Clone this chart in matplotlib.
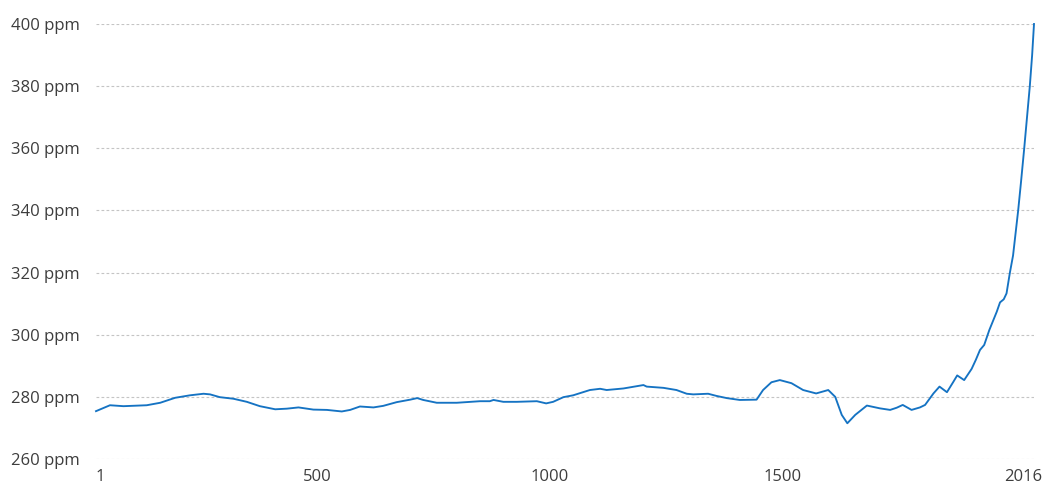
import matplotlib
matplotlib.use('Agg')
import matplotlib.pyplot as plt
import matplotlib.transforms as mtransforms

# Atmospheric CO2 concentration (ppm)
years = [1, 31, 60, 110, 139, 171, 203, 232, 246, 267, 296, 325, 353, 386, 411,
         436, 468, 497, 529, 547, 568, 597, 618, 647, 676, 691, 704, 733, 776,
         826, 847, 855, 876, 905, 948, 968, 983, 1005, 1026, 1062, 1084, 1098,
         1134, 1177, 1184, 1220, 1248, 1270, 1284, 1316, 1334, 1356, 1384, 1420,
         1434, 1452, 1470, 1495, 1520, 1548, 1574, 1589, 1603, 1615, 1632, 1657,
         1685, 1707, 1721, 1734, 1753, 1771, 1782, 1800, 1813, 1829, 1843, 1851,
         1866, 1882, 1891, 1900, 1909, 1920, 1936, 1943, 1951, 1957, 1964, 1971,
         1982, 1988, 1995, 2001, 2007, 2012, 2016]
co2 = [275.4, 277.3, 277.0, 277.3, 278.1, 279.7, 280.5, 281.0, 280.8, 279.9,
       279.4, 278.4, 277.0, 276.0, 276.2, 276.6, 275.9, 275.8, 275.3, 275.8,
       276.9, 276.6, 277.1, 278.3, 279.1, 279.6, 279.0, 278.1, 278.1, 278.6,
       278.6, 279.0, 278.4, 278.4, 278.6, 277.9, 278.4, 279.9, 280.5, 282.2,
       282.6, 282.2, 282.7, 283.8, 283.3, 282.9, 282.2, 281.0, 280.8, 281.0,
       280.3, 279.6, 279.0, 279.1, 282.2, 284.7, 285.4, 284.4, 282.2, 281.1,
       282.2, 280.0, 274.2, 271.5, 274.2, 277.2, 276.3, 275.8, 276.5, 277.4,
       275.8, 276.6, 277.4, 281.1, 283.3, 281.5, 284.9, 286.9, 285.4, 289.0,
       291.9, 295.1, 296.7, 301.5, 307.4, 310.4, 311.4, 313.3, 319.8, 325.5,
       340.0, 349.0, 360.0, 370.0, 380.0, 390.0, 400.0]

y_ticks = [260, 280, 300, 320, 340, 360, 380, 400]
x_ticks = [1, 500, 1000, 1500, 2016]
x_labels = ['1', '500', '1000', '1500', '2016']

text_color = '#3d3d3d'
line_color = '#1573c3'

plt.rcParams['font.family'] = ['Open Sans', 'DejaVu Sans']

fig = plt.figure(figsize=(10.45, 4.84), dpi=100)
ax = fig.add_axes([96 / 1045, 1 - 459 / 484, (1034 - 96) / 1045, (459 - 24) / 484])

ax.plot(years, co2, color=line_color, linewidth=1.35, solid_joinstyle='round',
        clip_on=False, zorder=3)

ax.set_xlim(1, 2016)
ax.set_ylim(260, 400)

for s in ax.spines.values():
    s.set_visible(False)

ax.set_yticks(y_ticks)
ax.set_yticklabels([f'{v} ppm' for v in y_ticks])
ax.tick_params(axis='y', length=0, pad=11.5, labelsize=12, labelcolor=text_color)
ax.yaxis.grid(True, color='#c4c4c4', linewidth=0.8, linestyle=(0, (2.5, 2)))
ax.set_axisbelow(True)

# x labels drawn by hand: first one left-aligned, the rest nudged left a bit
ax.set_xticks([])
trans = mtransforms.blended_transform_factory(ax.transData, ax.transAxes)
off = mtransforms.ScaledTranslation(-11 / 100, 0, fig.dpi_scale_trans)
for xv, lab in zip(x_ticks, x_labels):
    if xv == x_ticks[0]:
        ax.text(xv, -0.022, lab, ha='left', va='top', transform=trans,
                fontsize=12, color=text_color)
    else:
        ax.text(xv, -0.022, lab, ha='center', va='top', transform=trans + off,
                fontsize=12, color=text_color)

fig.savefig('out.png', dpi=100, facecolor='white')
